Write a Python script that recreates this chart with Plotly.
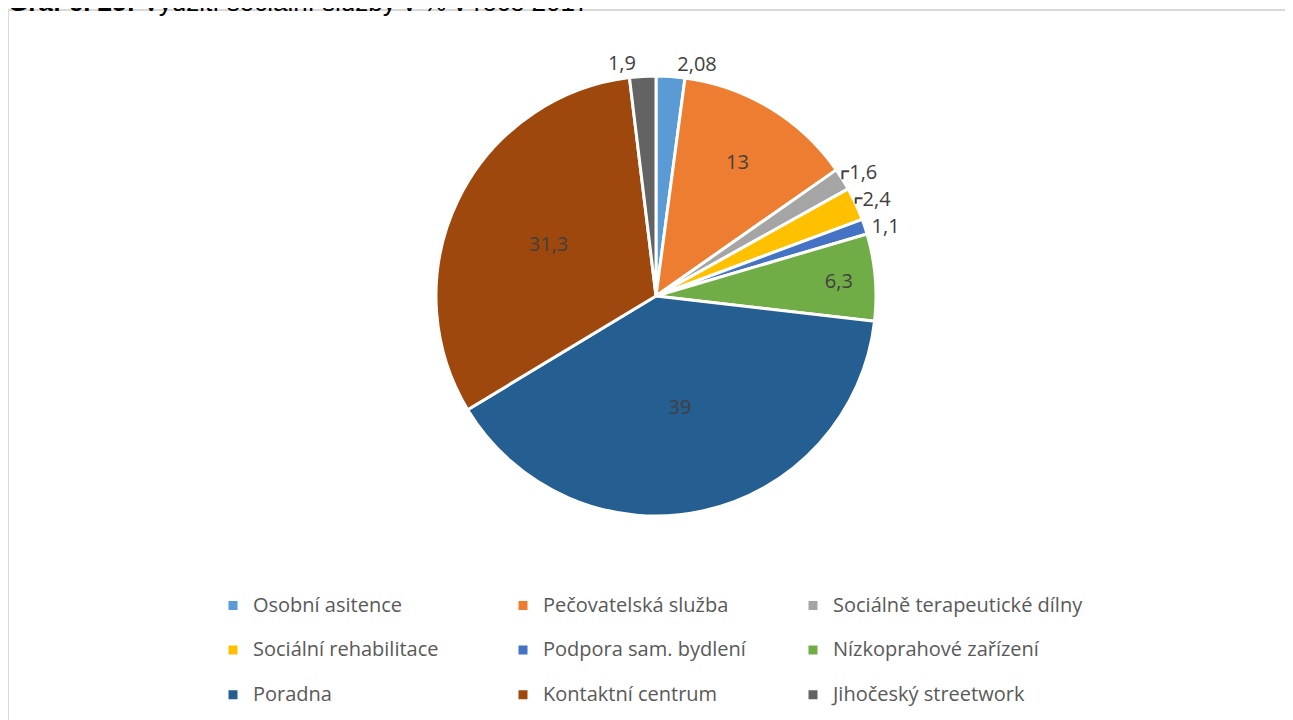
import plotly.graph_objects as go

# ---- data -------------------------------------------------------------
labels = [
    "Osobní asitence",
    "Pečovatelská služba",
    "Sociálně terapeutické dílny",
    "Sociální rehabilitace",
    "Podpora sam. bydlení",
    "Nízkoprahové zařízení",
    "Poradna",
    "Kontaktní centrum",
    "Jihočeský streetwork",
]
values = [2.08, 13, 1.6, 2.4, 1.1, 6.3, 39, 31.3, 1.9]
colors = ["#5B9BD5", "#ED7D31", "#A5A5A5", "#FFC000", "#4472C4",
          "#70AD47", "#255E91", "#9E480E", "#636363"]
title_bold = "Graf č. 25:"
title_rest = " Využití sociální služby v % v roce 2017"

# ---- derived presentation --------------------------------------------
text_labels = [("%g" % v).replace(".", ",") for v in values]
positions = ["inside" if v >= 5 else "outside" for v in values]
# legend entries: larger visible text; a blank second line on the first two
# rows gives the taller row spacing of the original legend
legend_labels = [
    "<span style='font-size:20px'>" + l + "</span>" + ("<br>\u00a0" if i < 6 else "")
    for i, l in enumerate(labels)
]

FONT = "'Open Sans', Lato, sans-serif"

fig = go.Figure(
    go.Pie(
        labels=legend_labels,
        values=values,
        text=text_labels,
        textinfo="text",
        textposition=positions,
        insidetextorientation="horizontal",
        sort=False,
        direction="clockwise",
        rotation=0,
        marker=dict(colors=colors, line=dict(color="white", width=3)),
        textfont=dict(family=FONT, size=20, color="#404040"),
        outsidetextfont=dict(family=FONT, size=20, color="#404040"),
        insidetextfont=dict(family=FONT, size=20, color="#404040"),
        hoverinfo="value",
    )
)

fig.update_layout(
    width=1293,
    height=720,
    paper_bgcolor="white",
    plot_bgcolor="white",
    margin=dict(l=148, r=145, t=68, b=212, autoexpand=False),
    showlegend=True,
    legend=dict(
        orientation="h",
        x=0.057,
        xanchor="left",
        y=-0.165,
        yanchor="top",
        entrywidth=245,
        entrywidthmode="pixels",
        valign="top",
        font=dict(family=FONT, size=16, color="#595959"),
        bgcolor="rgba(0,0,0,0)",
    ),
    shapes=[
        dict(
            type="rect", xref="paper", yref="paper",
            x0=-0.148, x1=1.20, y0=-0.50, y1=1.15,
            line=dict(color="#D9D9D9", width=2),
            fillcolor="rgba(0,0,0,0)",
            layer="below",
        )
    ],
    annotations=[
        dict(
            text="<b>" + title_bold + "</b>" + title_rest,
            xref="paper", yref="paper",
            x=-0.15, xanchor="left",
            y=1.1296, yanchor="bottom",
            showarrow=False,
            font=dict(family="Arial, 'Liberation Sans', sans-serif", size=26, color="black"),
        )
    ],
)

fig.write_html("out.html")
